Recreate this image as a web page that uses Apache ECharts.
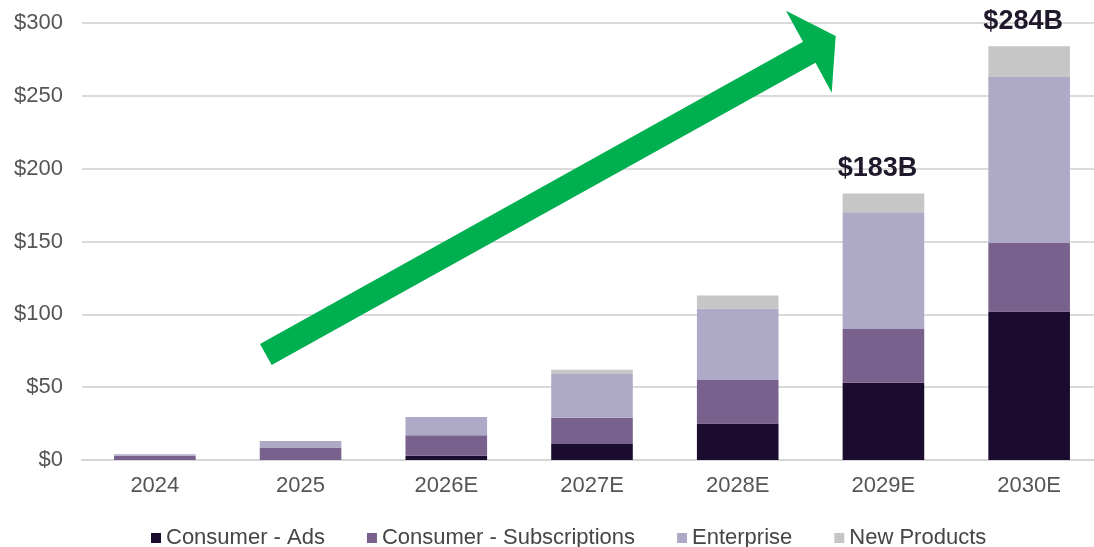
<!DOCTYPE html>
<html>
<head>
<meta charset="utf-8">
<title>Revenue by segment</title>
<script src="https://cdn.jsdelivr.net/npm/echarts@6/dist/echarts.min.js"></script>
<style>
  html, body { margin: 0; padding: 0; background: #ffffff; overflow: hidden; }
  #wrap { width: 1094px; height: 547px; overflow: hidden; }
  /* the plot runs slightly past the right edge, so the canvas is a bit wider than the frame */
  #chart { width: 1104px; height: 547px; }
</style>
</head>
<body>
<div id="wrap"><div id="chart"></div></div>
<script>
// Revenue by segment, $B
const years = ['2024', '2025', '2026E', '2027E', '2028E', '2029E', '2030E'];
const consumerAds = [0, 0, 3, 11, 25, 53, 102];
const consumerSubs = [3, 8.5, 14, 18, 30, 37, 47];
const enterprise = [1, 4.5, 12.5, 30, 49, 80, 114];
const newProducts = [0, 0, 0, 3, 9, 13, 21];
// Totals called out above the last two bars
const calloutYears = ['2029E', '2030E'];
const yTicks = [0, 50, 100, 150, 200, 250, 300];

const totals = years.map((_, i) => consumerAds[i] + consumerSubs[i] + enterprise[i] + newProducts[i]);

const FONT = '"Liberation Sans", Arial, Helvetica, sans-serif';
const chart = echarts.init(document.getElementById('chart'), null, { renderer: 'canvas' });

function seg(name, data, color) {
  return {
    name: name,
    type: 'bar',
    stack: 'rev',
    data: data,
    barWidth: '56%',
    itemStyle: { color: color },
    emphasis: { disabled: true }
  };
}

const topSeries = seg('New Products', newProducts, '#c6c6c6');
topSeries.label = {
  show: true,
  position: 'top',
  distance: 11,
  offset: [-6, 0],
  fontFamily: FONT,
  fontSize: 27,
  fontWeight: 'bold',
  color: '#20192c',
  formatter: p => calloutYears.includes(p.name) ? '$' + totals[p.dataIndex] + 'B' : ''
};

chart.setOption({
  animation: false,
  backgroundColor: '#ffffff',
  grid: { left: 82, right: 2, top: 23, bottom: 87, containLabel: false },
  legend: {
    left: 146,
    top: 522,
    itemWidth: 10,
    itemHeight: 10,
    itemGap: 42,
    icon: 'rect',
    textStyle: { fontFamily: FONT, fontSize: 22, color: '#454545' },
    data: ['Consumer - Ads', 'Consumer - Subscriptions', 'Enterprise', 'New Products']
  },
  xAxis: {
    type: 'category',
    data: years,
    axisLine: { show: true, lineStyle: { color: '#d6d6d6', width: 2 } },
    axisTick: { show: false },
    axisLabel: { fontFamily: FONT, fontSize: 22, color: '#555555', margin: 15 }
  },
  yAxis: {
    type: 'value',
    min: yTicks[0],
    max: yTicks[yTicks.length - 1],
    interval: yTicks[1] - yTicks[0],
    axisLine: { show: false },
    axisTick: { show: false },
    splitLine: { lineStyle: { color: '#dadada', width: 2 } },
    axisLabel: {
      fontFamily: FONT, fontSize: 22, color: '#555555', margin: 19,
      formatter: v => '$' + v
    }
  },
  series: [
    seg('Consumer - Ads', consumerAds, '#1b0b2e'),
    seg('Consumer - Subscriptions', consumerSubs, '#78618c'),
    seg('Enterprise', enterprise, '#aea9c7'),
    topSeries
  ],
  graphic: [{
    // Green growth arrow drawn over the bars
    type: 'polygon',
    z: 100,
    shape: {
      points: [
        [260, 344], [803, 41.7], [786, 10.7], [835.7, 36],
        [831.7, 92.7], [815.5, 62.7], [271.7, 365]
      ]
    },
    style: { fill: '#00b050' }
  }]
});
</script>
</body>
</html>
